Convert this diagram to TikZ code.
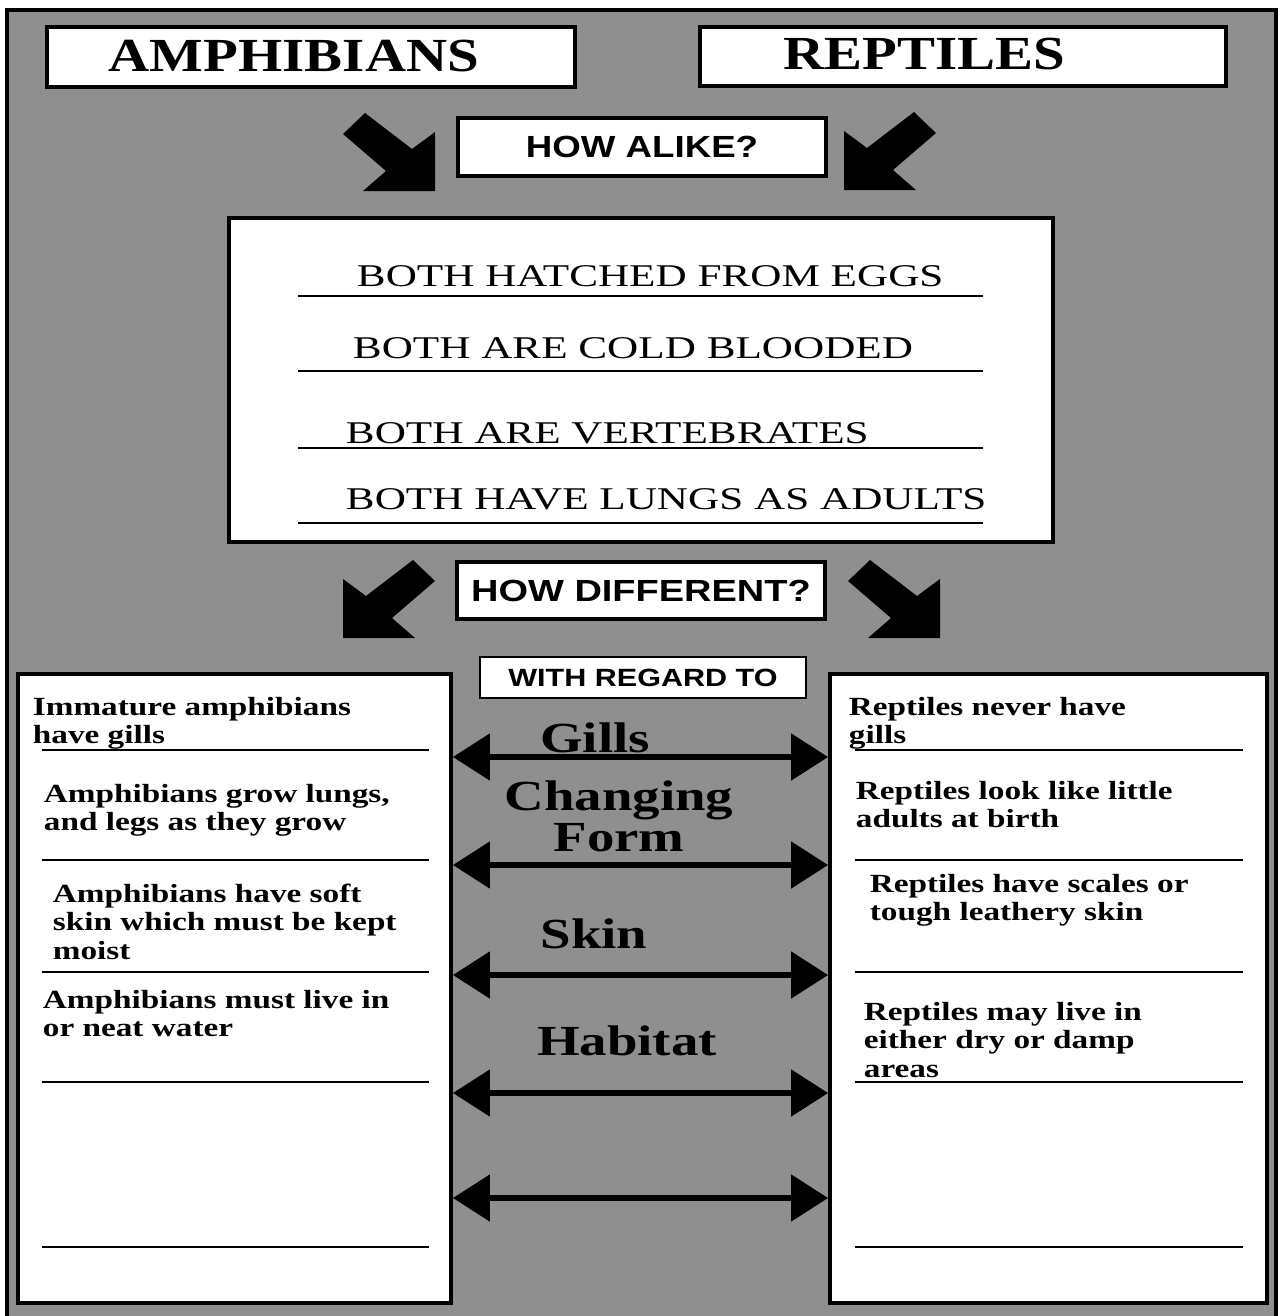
\documentclass[tikz,border=0pt]{standalone}
\usepackage{fontspec}
\setmainfont{Liberation Serif}
\newfontfamily\hsans{Liberation Sans}
\usepackage{graphicx}
\usetikzlibrary{arrows.meta}
\definecolor{bggray}{RGB}{143,143,143}

\newcommand{\stack}[2][l]{\begin{tabular}[t]{@{}#1@{}}#2\end{tabular}}

\begin{document}
\begin{tikzpicture}[
		box/.style={draw,fill=white,line width=1.1pt,inner sep=0pt},
		title/.style={font=\bfseries\fontsize{13.5}{14}\selectfont,anchor=base west,inner sep=0pt,xscale=1.2},
		ask/.style={font=\hsans\bfseries\fontsize{8.7}{9}\selectfont,inner sep=0pt,xscale=1.2},
		both/.style={font=\fontsize{9}{10}\selectfont,anchor=base west,inner sep=0pt,xscale=1.365},
		topic/.style={font=\bfseries\fontsize{12.2}{11.7}\selectfont,anchor=base,inner sep=0pt,xscale=1.28},
		note/.style={font=\bfseries\fontsize{7.45}{8.2}\selectfont,anchor=base west,inner sep=0pt,xscale=1.27},
		rule/.style={line width=0.6pt},
		dbl/.style={{Triangle[length=3.7mm,width=4.6mm]}-{Triangle[length=3.7mm,width=4.6mm]},line width=1.5pt}
	]
	\useasboundingbox (0,0) rectangle (12.83,-13.16);

	%background frame
		\draw[fill=bggray,line width=0.9pt] (0.07,-0.10) rectangle (12.76,-13.18);

	%titles
		\node[box,minimum width=5.28cm,minimum height=0.60cm] (amphbox) at (3.11,-0.57) {};
		\node[box,minimum width=5.26cm,minimum height=0.59cm] (reptbox) at (9.63,-0.565) {};
		\node[title] (amphtitle) at (1.08,-0.71) {AMPHIBIANS};
		\node[title] (repttitle) at (7.83,-0.69) {REPTILES};

	%block arrows
		\foreach \x/\y/\s in {4.35/-1.91/1, 8.44/-1.90/-1, 3.43/-6.38/-1, 9.40/-6.38/1}
			\fill[shift={(\x,\y)},xscale=\s] (0,0) -- (-0.72,0) -- (-0.49,0.20) -- (-0.92,0.57) -- (-0.70,0.78) -- (-0.23,0.42) -- (0,0.59) -- cycle;

	%how alike
		\node[box,minimum width=3.68cm,minimum height=0.58cm] (alikebox) at (6.42,-1.47) {};
		\node[ask] (alike) at (alikebox) {HOW ALIKE?};
		\node[box,minimum width=8.24cm,minimum height=3.24cm] (bothbox) at (6.41,-3.80) {};
		\foreach \y in {2.96,3.71,4.48,5.23}
			\draw[rule] (2.98,-\y) -- (9.83,-\y);
		\node[both] (both1) at (3.56,-2.86) {BOTH HATCHED FROM EGGS};
		\node[both] (both2) at (3.52,-3.58) {BOTH ARE COLD BLOODED};
		\node[both] (both3) at (3.45,-4.43) {BOTH ARE VERTEBRATES};
		\node[both] (both4) at (3.45,-5.09) {BOTH HAVE LUNGS AS ADULTS};

	%how different
		\node[box,minimum width=3.68cm,minimum height=0.57cm] (diffbox) at (6.41,-5.905) {};
		\node[ask,xscale=1.035] (diff) at (diffbox) {HOW DIFFERENT?};
		\node[box,line width=0.8pt,minimum width=3.26cm,minimum height=0.41cm] (regardbox) at (6.43,-6.775) {};
		\node[ask,font=\hsans\bfseries\fontsize{7.1}{8}\selectfont,xscale=1.02] (regard) at (regardbox) {WITH REGARD TO};

	%lists
		\node[box,minimum width=4.33cm,minimum height=6.29cm] (amphlist) at (2.345,-9.885) {};
		\node[box,minimum width=4.37cm,minimum height=6.29cm] (reptlist) at (10.485,-9.885) {};
		\foreach \y in {7.50,8.60,9.72,10.82,12.47}
		{
			\draw[rule] (0.42,-\y) -- (4.29,-\y);
			\draw[rule] (8.55,-\y) -- (12.43,-\y);
		}
		\node[note] (amph1) at (0.32,-7.15) {\stack{Immature amphibians\\have gills}};
		\node[note] (amph2) at (0.43,-8.02) {\stack{Amphibians grow lungs,\\and legs as they grow}};
		\node[note] (amph3) at (0.52,-9.02) {\stack{Amphibians have soft\\skin which must be kept\\moist}};
		\node[note] (amph4) at (0.42,-10.08) {\stack{Amphibians must live in\\or neat water}};
		\node[note] (rept1) at (8.48,-7.15) {\stack{Reptiles never have\\gills}};
		\node[note] (rept2) at (8.55,-7.99) {\stack{Reptiles look like little\\adults at birth}};
		\node[note] (rept3) at (8.69,-8.92) {\stack{Reptiles have scales or\\tough leathery skin}};
		\node[note] (rept4) at (8.63,-10.20) {\stack{Reptiles may live in\\either dry or damp\\areas}};

	%topics and double arrows
		\node[topic] (gills) at (5.95,-7.52) {Gills};
		\node[topic] (form) at (6.19,-8.10) {\stack[c]{Changing\\Form}};
		\node[topic] (skin) at (5.94,-9.48) {Skin};
		\node[topic] (habitat) at (6.27,-10.55) {Habitat};
		\foreach \i/\y in {1/7.57, 2/8.65, 3/9.75, 4/10.93, 5/11.98}
		{
			\coordinate (lv\i) at (0,-\y);
			\draw[dbl] (amphlist.east |- lv\i) -- (reptlist.west |- lv\i);
		}
\end{tikzpicture}
\end{document}
